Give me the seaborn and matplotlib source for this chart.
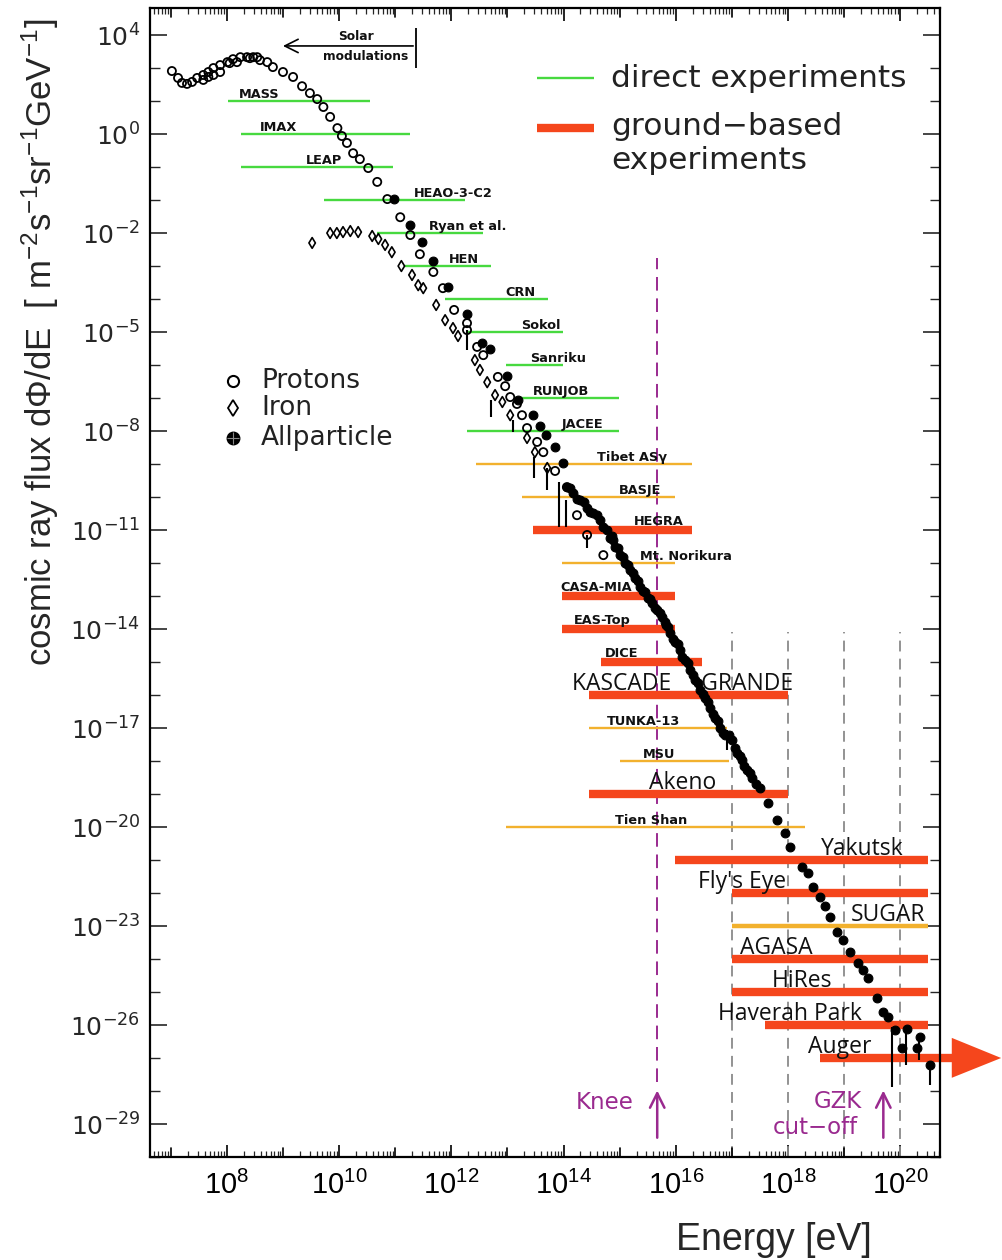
import matplotlib
matplotlib.use("Agg")
import numpy as np
import pandas as pd
import matplotlib.pyplot as plt
import seaborn as sns
from matplotlib import font_manager
from matplotlib.ticker import FixedLocator, LogLocator, NullFormatter

# ---------------- data (log10 values) ----------------
proton_log_e = [7.02, 7.13, 7.20, 7.29, 7.38, 7.47, 7.58, 7.67, 7.76, 7.88,
                8.01, 8.11, 8.24, 8.36, 8.47, 8.59, 8.72, 8.82, 9.00, 9.18,
                9.34, 9.48, 9.61, 9.72, 9.84, 9.97, 10.05, 10.14, 10.25, 10.37,
                10.52, 10.68, 10.86, 11.09, 11.27, 11.44, 11.68, 11.85, 12.05, 12.28,
                12.28, 12.46, 12.57, 12.83, 12.96, 13.05, 13.17, 13.26, 13.35, 13.53,
                13.64, 13.85, 14.06, 14.24, 14.42, 14.71,
                7.58, 7.67, 7.76, 7.88, 8.05, 8.18, 8.41, 8.54]
proton_log_f = [2.91, 2.70, 2.55, 2.52, 2.58, 2.70, 2.79, 2.88, 3.00, 3.09,
                3.18, 3.27, 3.33, 3.33, 3.33, 3.24, 3.18, 3.03, 2.88, 2.73,
                2.45, 2.24, 2.06, 1.82, 1.52, 1.18, 0.94, 0.73, 0.42, 0.24,
                -0.03, -0.45, -0.97, -1.52, -2.06, -2.64, -3.18, -3.67, -4.33, -4.73,
                -4.94, -5.45, -5.70, -6.36, -6.64, -6.97, -7.18, -7.52, -7.91, -8.33,
                -8.64, -9.21, -9.70, -10.55, -11.15, -11.76,
                2.64, 2.73, 2.79, 2.88, 3.15, 3.18, 3.30, 3.33]

iron_log_e = [9.52, 9.84, 9.96, 10.07, 10.20, 10.34, 10.59, 10.70, 10.82, 10.94,
              11.11, 11.30, 11.41, 11.50, 11.73, 11.89, 12.03, 12.12, 12.42, 12.51,
              12.64, 12.78, 12.91, 13.05, 13.35, 13.49, 13.71]
iron_log_f = [-2.30, -2.00, -2.00, -1.97, -1.94, -1.97, -2.09, -2.18, -2.36, -2.58,
              -3.00, -3.27, -3.58, -3.67, -4.18, -4.64, -4.88, -5.12, -5.85, -6.15,
              -6.52, -6.91, -7.12, -7.52, -8.21, -8.64, -9.12]

allp_log_e = [10.98, 11.27, 11.48, 11.68, 11.94, 12.28, 12.55, 12.69, 12.99, 13.19,
              13.46, 13.58, 13.69, 13.85, 13.99,
              14.06, 14.17, 14.30, 14.42, 14.53, 14.65, 14.78, 14.83, 14.88, 14.92,
              15.01, 15.10, 15.19, 15.28, 15.37, 15.45, 15.51, 15.58, 15.67, 15.76,
              15.83, 15.90, 15.99, 16.08, 16.17, 16.26, 16.35, 16.43, 16.52, 16.61,
              16.70, 16.79, 16.88, 17.01, 17.09, 17.18, 17.27, 17.36, 17.50,
              17.65, 17.81, 17.95, 18.04, 18.25, 18.36, 18.45, 18.57, 18.66, 18.75,
              18.88, 18.98, 19.11, 19.25, 19.34, 19.43, 19.59, 19.70, 19.79, 19.91,
              20.04, 20.12, 20.30, 20.36, 20.53,
              14.12, 14.24, 14.36, 14.48, 14.60, 14.71, 14.86, 14.97, 15.06, 15.15,
              15.24, 15.33, 15.41, 15.55, 15.63, 15.72, 15.80, 15.87, 15.95, 16.04,
              16.12, 16.21, 16.30, 16.39, 16.48, 16.57, 16.66, 16.75, 16.84, 16.95,
              17.05, 17.14, 17.22, 17.32, 17.43]
allp_log_f = [-0.97, -1.76, -2.27, -2.85, -3.64, -4.45, -5.33, -5.52, -6.33, -7.06,
              -7.52, -7.85, -8.12, -8.48, -8.97,
              -9.70, -9.88, -10.09, -10.33, -10.48, -10.70, -11.00, -11.24, -11.30, -11.52,
              -11.76, -12.00, -12.21, -12.45, -12.73, -12.88, -13.06, -13.21, -13.42, -13.64,
              -13.88, -14.12, -14.39, -14.64, -14.94, -15.24, -15.55, -15.85, -16.09, -16.39,
              -16.70, -17.00, -17.21, -17.36, -17.76, -17.97, -18.27, -18.52, -18.82,
              -19.27, -19.79, -20.18, -20.61, -21.21, -21.39, -21.82, -22.12, -22.39, -22.73,
              -23.18, -23.42, -23.79, -24.12, -24.33, -24.58, -25.18, -25.61, -25.76, -26.15,
              -26.70, -26.12, -26.70, -26.36, -27.21,
              -9.72, -10.05, -10.16, -10.45, -10.55, -10.92, -11.18, -11.55, -11.82, -12.05,
              -12.30, -12.55, -12.85, -13.08, -13.35, -13.50, -13.80, -13.95, -14.30, -14.45,
              -14.85, -15.02, -15.40, -15.65, -15.98, -16.20, -16.58, -16.80, -17.15, -17.22,
              -17.60, -17.85, -18.15, -18.35, -18.70]

err_log_e = [12.28, 12.71, 13.10, 13.48, 13.71, 13.92, 14.05, 14.42, 16.92, 19.86, 20.11, 20.34, 20.53]
err_log_hi = [-4.94, -7.06, -7.67, -8.79, -9.12, -9.55, -10.09, -11.15, -17.06, -26.06, -26.15, -26.36, -27.21]
err_log_lo = [-5.55, -7.58, -8.03, -9.42, -9.79, -10.91, -10.91, -11.55, -17.67, -27.88, -27.21, -27.06, -27.82]

exp_names = ["MASS", "IMAX", "LEAP", "HEAO-3-C2", "Ryan et al.", "HEN", "CRN", "Sokol",
             "Sanriku", "RUNJOB", "JACEE", "Tibet ASγ", "BASJE", "HEGRA", "Mt. Norikura",
             "CASA-MIA", "EAS-Top", "DICE", "KASCADE     GRANDE", "TUNKA-13", "MSU", "Akeno",
             "Tien Shan", "Yakutsk", "Fly's Eye", "SUGAR", "AGASA", "HiRes", "Haverah Park", "Auger"]
exp_log_emin = [8.02, 8.25, 8.25, 9.73, 10.68, 11.18, 11.89, 12.28, 12.98, 13.14,
                12.28, 12.44, 13.26, 13.46, 13.98, 13.98, 13.98, 14.67, 14.46, 14.46,
                15.00, 14.46, 12.98, 15.99, 17.00, 17.00, 17.00, 17.00, 17.59, 18.57]
exp_log_emax = [10.55, 11.27, 10.96, 12.25, 12.57, 12.71, 13.73, 13.99, 13.99, 14.99,
                14.99, 16.29, 15.99, 16.29, 15.99, 15.99, 15.99, 16.47, 18.00, 16.92,
                16.95, 18.00, 18.31, 20.50, 20.50, 20.50, 20.50, 20.50, 20.50, 20.93]
exp_log_flux = [2, 1, 0, -1, -2, -3, -4, -5, -6, -7, -8, -9, -10, -11, -12,
                -13, -14, -15, -16, -17, -18, -19, -20, -21, -22, -23, -24, -25, -26, -27]
exp_kind = ["direct"] * 11 + ["thin", "thin", "thick", "thin", "thick", "thick", "thick",
                              "thick", "thin", "thin", "thick", "thin", "thick", "thick",
                              "medium", "thick", "thick", "thick", "thick"]
exp_label_log_e = [8.57, 8.92, 9.73, 12.03, 12.29, 12.22, 13.23, 13.60, 13.90, 13.95,
                   14.34, 15.23, 15.36, 15.69, 16.18, 14.58, 14.69, 15.03, 16.12, 15.42,
                   15.71, 16.12, 15.56, 19.33, 17.18, 19.79, 17.79, 18.25, 18.04, 18.93]
big_labels = {"KASCADE     GRANDE", "Akeno", "Yakutsk", "Fly's Eye", "SUGAR", "AGASA",
              "HiRes", "Haverah Park", "Auger"}

x_tick_exp = [8, 10, 12, 14, 16, 18, 20]
x_tick_labels = ["$10^{8}$", "$10^{10}$", "$10^{12}$", "$10^{14}$", "$10^{16}$", "$10^{18}$", "$10^{20}$"]
y_tick_exp = [4, 1, -2, -5, -8, -11, -14, -17, -20, -23, -26, -29]
y_tick_labels = ["$10^{4}$", "$10^{0}$", "$10^{-2}$", "$10^{-5}$", "$10^{-8}$", "$10^{-11}$",
                 "$10^{-14}$", "$10^{-17}$", "$10^{-20}$", "$10^{-23}$", "$10^{-26}$", "$10^{-29}$"]

# ---------------- style ----------------
sns.set_theme(style="ticks")
installed = {f.name for f in font_manager.fontManager.ttflist}
NARROW = "Liberation Sans Narrow" if "Liberation Sans Narrow" in installed else "Liberation Sans"
BIG = "Open Sans" if "Open Sans" in installed else "DejaVu Sans"
plt.rcParams.update({
    "font.family": ["DejaVu Sans"],
    "mathtext.fontset": "custom",
    "mathtext.rm": NARROW,
    "mathtext.it": NARROW + ":italic",
    "mathtext.bf": NARROW + ":bold",
    "xtick.direction": "in", "ytick.direction": "in",
    "xtick.top": True, "ytick.right": True,
    "axes.linewidth": 1.6, "axes.edgecolor": "black",
})

GREEN = "#47d93f"
YELLOW = "#f2b12e"
RED = "#f5461c"
PURPLE = "#9a2a8f"
GRAY = "#8a8a8a"
INK = "#111111"

fig = plt.figure(figsize=(10.02, 12.6), dpi=100)
ax = fig.add_axes([150 / 1002, 1 - 1157 / 1260, 790 / 1002, 1149 / 1260])
ax.set_xscale("log")
ax.set_yscale("log")
ax.set_xlim(10 ** 6.63, 10 ** 20.71)
ax.set_ylim(10 ** -30.0, 10 ** 4.82)

# ---------------- experiment bars ----------------
exps = pd.DataFrame({
    "name": exp_names,
    "emin": 10.0 ** np.array(exp_log_emin),
    "emax": 10.0 ** np.array(exp_log_emax),
    "flux": 10.0 ** np.array(exp_log_flux, dtype=float),
    "kind": exp_kind,
    "lab_e": 10.0 ** np.array(exp_label_log_e),
})
styles = {"direct": (GREEN, 1.7), "thin": (YELLOW, 1.7), "medium": (YELLOW, 3.2), "thick": (RED, 6.0)}
for kind, (col, lw) in styles.items():
    sel = exps[exps.kind == kind]
    lc = ax.hlines(sel.flux, sel.emin, sel.emax, colors=col, lw=lw, zorder=2, clip_on=False)
    lc.set_capstyle("butt")

# Auger arrow head (outside the frame)
ax.fill([10 ** 20.92, 10 ** 20.92, 10 ** 21.80], [10 ** -26.39, 10 ** -27.6, 10 ** -27.0],
        color=RED, clip_on=False, zorder=2, lw=0)

for _, r in exps.iterrows():
    if r["name"] in big_labels:
        ax.annotate(r["name"], (r["lab_e"], r["flux"]), xytext=(0, 3.8), textcoords="offset points",
                    ha="center", va="baseline", fontsize=16.5, family=BIG, color=INK, zorder=5)
    else:
        off = 3.6 if r["kind"] == "thick" else 2.4
        ax.annotate(r["name"], (r["lab_e"], r["flux"]), xytext=(0, off), textcoords="offset points",
                    ha="center", va="baseline", fontsize=9.3, fontweight="bold", color=INK, zorder=5)

# ---------------- reference lines ----------------
for k in [17, 18, 19, 20]:
    ax.vlines(10.0 ** k, 10 ** -30, 10 ** -14.1, colors=GRAY, lw=1.3, linestyles=(0, (6, 4)), zorder=1)
ax.vlines(10 ** 15.67, 10 ** -27.73, 10 ** -2.76, colors=PURPLE, lw=1.4, linestyles=(0, (7, 4)), zorder=1)
for xe in [15.67, 19.70]:
    ax.annotate("", xy=(10 ** xe, 10 ** -27.9), xytext=(10 ** xe, 10 ** -29.5),
                arrowprops=dict(arrowstyle="->", color=PURPLE, lw=1.8, mutation_scale=26))
ax.text(10 ** 14.74, 10 ** -28.36, "Knee", color=PURPLE, fontsize=16.5, ha="center", va="center")
ax.text(10 ** 18.89, 10 ** -28.33, "GZK", color=PURPLE, fontsize=16.5, ha="center", va="center")
ax.text(10 ** 18.48, 10 ** -29.12, "cut−off", color=PURPLE, fontsize=16.5, ha="center", va="center")

# solar modulations
ax.annotate("", xy=(10 ** 8.95, 10 ** 3.67), xytext=(10 ** 11.37, 10 ** 3.67),
            arrowprops=dict(arrowstyle="->", color="black", lw=1.2, mutation_scale=24))
ax.vlines(10 ** 11.37, 10 ** 3.0, 10 ** 4.21, colors="black", lw=1.3)
ax.text(10 ** 10.30, 10 ** 3.97, "Solar", fontsize=8.8, fontweight="semibold", ha="center", va="center", color=INK)
ax.text(10 ** 10.48, 10 ** 3.36, "modulations", fontsize=8.8, fontweight="semibold", ha="center", va="center", color=INK)

# ---------------- data points ----------------
ax.vlines(10.0 ** np.array(err_log_e), 10.0 ** np.array(err_log_lo), 10.0 ** np.array(err_log_hi),
          colors="black", lw=1.5, zorder=3)
sns.scatterplot(x=10.0 ** np.array(proton_log_e), y=10.0 ** np.array(proton_log_f), ax=ax,
                marker="o", s=34, facecolor="none", edgecolor="black", linewidth=1.3, zorder=4)
sns.scatterplot(x=10.0 ** np.array(iron_log_e), y=10.0 ** np.array(iron_log_f), ax=ax,
                marker="d", s=30, facecolor="none", edgecolor="black", linewidth=1.2, zorder=4)
sns.scatterplot(x=10.0 ** np.array(allp_log_e), y=10.0 ** np.array(allp_log_f), ax=ax,
                marker="o", s=40, color="black", edgecolor="black", linewidth=0.8, zorder=4)

# ---------------- legends (drawn by hand) ----------------
T = ax.transAxes
ax.plot([0.490, 0.562], [0.939, 0.939], transform=T, color=GREEN, lw=1.7, solid_capstyle="butt")
ax.plot([0.490, 0.562], [0.8956, 0.8956], transform=T, color=RED, lw=6, solid_capstyle="butt")
ax.text(0.5835, 0.939, "direct experiments", transform=T, va="center", fontsize=22.5, color="#222")
ax.text(0.5835, 0.897, "ground−based", transform=T, va="center", fontsize=22.5, color="#222")
ax.text(0.5835, 0.8677, "experiments", transform=T, va="center", fontsize=22.5, color="#222")

ax.plot([0.105], [0.6754], transform=T, marker="o", ms=8, mfc="none", mec="black", mew=1.5, ls="")
ax.plot([0.105], [0.6519], transform=T, marker="d", ms=8, mfc="none", mec="black", mew=1.3, ls="")
ax.plot([0.105], [0.6258], transform=T, marker="o", ms=9, mfc="black", mec="black", ls="")
ax.plot([0.105], [0.6258], transform=T, marker="+", ms=8, mec="#888", mew=0.8, ls="")
ax.text(0.1405, 0.6754, "Protons", transform=T, va="center", fontsize=19, color="#222")
ax.text(0.1405, 0.6519, "Iron", transform=T, va="center", fontsize=19, color="#222")
ax.text(0.1405, 0.6258, "Allparticle", transform=T, va="center", fontsize=19, color="#222")

# ---------------- axes ----------------
ax.set_xticks(10.0 ** np.array(x_tick_exp, dtype=float), x_tick_labels, fontsize=21)
ax.xaxis.set_minor_locator(LogLocator(base=10, subs=np.arange(2, 10), numticks=60))
ax.xaxis.set_minor_formatter(NullFormatter())
ax.set_yticks(10.0 ** np.array(y_tick_exp, dtype=float), y_tick_labels, fontsize=18,
              math_fontfamily="dejavusans")
ax.yaxis.set_minor_locator(FixedLocator(10.0 ** np.arange(-30, 5)))
ax.yaxis.set_minor_formatter(NullFormatter())
ax.tick_params(axis="x", which="major", length=9, width=1.2, pad=10, colors="black")
ax.tick_params(axis="x", which="minor", length=4, width=0.9)
ax.tick_params(axis="y", which="major", length=12, width=1.2, pad=7)
ax.tick_params(axis="y", which="minor", length=7, width=1.0)
# odd-decade x ticks, drawn as long ticks on both frame edges
for k in [7, 9, 11, 13, 15, 17, 19]:
    for y0, sgn in [(0, 1), (1, -1)]:
        ax.plot([10.0 ** k, 10.0 ** k], [y0, y0 + sgn * 0.0078], transform=ax.get_xaxis_transform(),
                color="black", lw=1.2, clip_on=False)
ax.set_xlabel("")
ax.set_ylabel("")

fig.text(40 / 1002, 1 - 342 / 1260,
         "cosmic ray flux dΦ/dE  [ m$^{-2}$s$^{-1}$sr$^{-1}$GeV$^{-1}$]",
         rotation=90, ha="center", va="center", fontsize=25, family=[NARROW, "DejaVu Sans"])
fig.text(774 / 1002, 1 - 1240 / 1260, "Energy [eV]", ha="center", va="center",
         fontsize=27, family="Liberation Sans")

fig.savefig("out.png", dpi=100)
